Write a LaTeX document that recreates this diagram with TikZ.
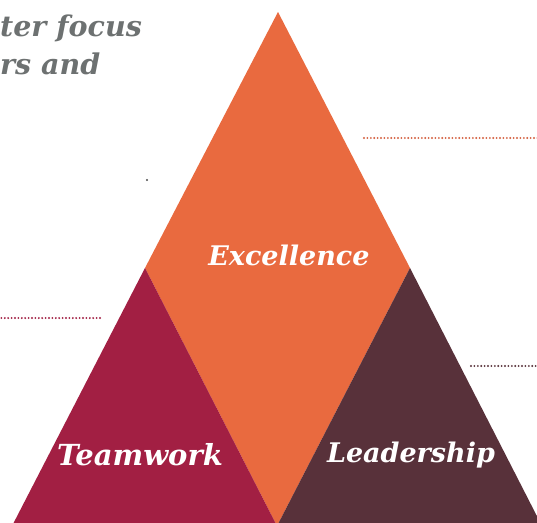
\documentclass[tikz,border=0pt]{standalone}
\usepackage{fontspec}
\setmainfont{DejaVu Serif}
\definecolor{exorange}{HTML}{E96A3F}
\definecolor{teamred}{HTML}{A21F43}
\definecolor{leadplum}{HTML}{58313A}
\definecolor{headgray}{HTML}{6D7171}
\definecolor{dotorange}{HTML}{D4603F}
\tikzset{
  label/.style={font=\bfseries\itshape\fontsize{27}{32}\selectfont, text=white, inner sep=0pt},
  headtext/.style={font=\bfseries\itshape\fontsize{28.5}{34}\selectfont, text=headgray, inner sep=0pt, anchor=base west},
  dotline/.style={line width=2.1pt, line cap=round, dash pattern=on 0pt off 3.4pt}
}
\begin{document}
\begin{tikzpicture}[x=1pt,y=-1pt]
\useasboundingbox (0,0) rectangle (537,522);
\fill[white] (0,0) rectangle (537,522);
\begin{scope}
\clip (0,0) rectangle (537,522);
\coordinate (apex) at (278,12);
\coordinate (lc) at (145,268);
\coordinate (rc) at (410,268);
\coordinate (bl) at (12,526);
\coordinate (bm) at (277,526);
\coordinate (br) at (542,526);
\fill[exorange] (apex) -- (lc) -- (bm) -- (rc) -- cycle;
\fill[teamred] (lc) -- (bm) -- (bl) -- cycle;
\fill[leadplum] (rc) -- (br) -- (bm) -- cycle;
% dotted leader lines
\coordinate (d1a) at (364,138);
\coordinate (d1b) at (540,138);
\draw[dotline, dotorange] (d1a) -- (d1b);
\coordinate (d2a) at (471,366);
\coordinate (d2b) at (540,366);
\draw[dotline, leadplum] (d2a) -- (d2b);
\coordinate (d3a) at (-2,318);
\coordinate (d3b) at (102,318);
\draw[dotline, teamred] (d3a) -- (d3b);
\end{scope}
\node[headtext] (head1) at (0,36) {ter focus};
\node[headtext] (head2) at (0,74) {rs and};
\fill[black!70] (147,180) circle (1.1pt);
% labels
\node[label] (excellence) at (289,255) {Excellence};
\node[label, font=\bfseries\itshape\fontsize{29}{34}\selectfont] (teamwork) at (140,455) {Teamwork};
\node[label] (leadership) at (411,455) {Leadership};
\end{tikzpicture}
\end{document}
